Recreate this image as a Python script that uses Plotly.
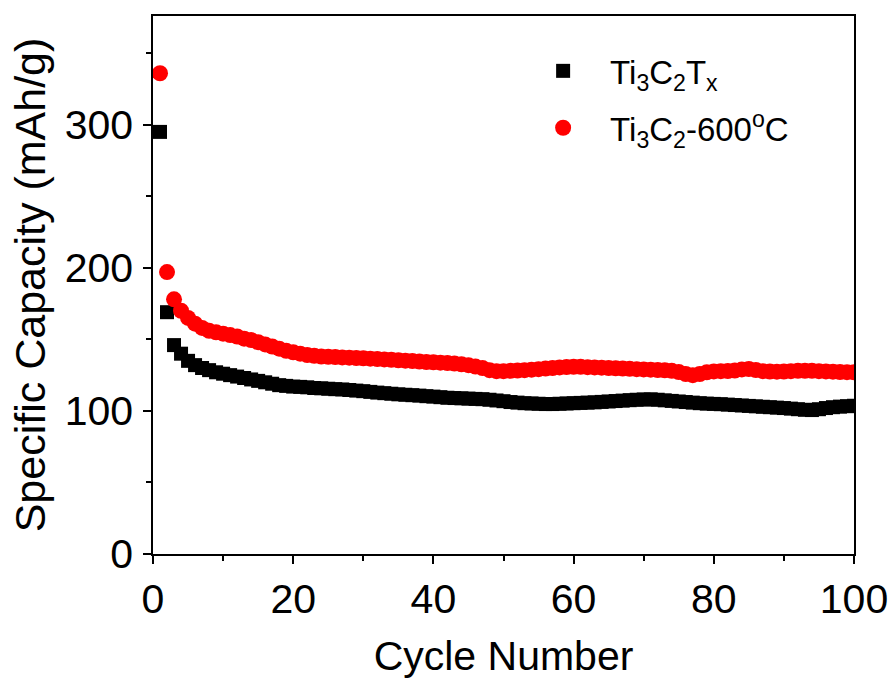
import plotly.graph_objects as go

# Cycle index (1..100)
cycles = list(range(1, 101))

# Discharge specific capacity (mAh/g) of pristine Ti3C2Tx
cap_ti3c2tx = [
    295, 169, 146, 140, 135, 132, 130, 128.5, 127, 126,
    125, 124, 123, 122, 121, 120, 119, 118, 117.5, 117,
    116.8, 116.5, 116, 115.8, 115.5, 115.2, 115, 114.6, 114.2, 113.8,
    113.3, 112.8, 112.4, 112, 111.6, 111.3, 111, 110.7, 110.3, 110,
    109.6, 109.2, 109, 108.8, 108.6, 108.4, 108.2, 107.8, 107.3, 106.8,
    106.2, 105.8, 105.4, 105.2, 105, 104.8, 104.8, 105, 105.2, 105.4,
    105.6, 105.8, 106, 106.3, 106.6, 106.9, 107.2, 107.5, 107.8, 108,
    108.1, 107.8, 107.4, 107, 106.6, 106.2, 105.8, 105.4, 105.1, 104.9,
    104.7, 104.4, 104.1, 103.8, 103.5, 103.2, 102.9, 102.6, 102.3, 102,
    101.6, 101.2, 100.8, 100.6, 101.2, 102, 102.6, 103, 103.3, 103.6,
]

# Discharge specific capacity (mAh/g) of Ti3C2 annealed at 600 °C
cap_ti3c2_600 = [
    336, 197, 178, 170, 165, 161, 158, 156, 155, 154,
    153, 152, 150.5, 149.5, 148, 146.5, 145, 143.5, 142, 141,
    140, 139, 138.5, 138, 137.8, 137.6, 137.4, 137.2, 137, 136.8,
    136.5, 136.2, 136, 135.7, 135.4, 135.1, 134.8, 134.5, 134.2, 134,
    133.7, 133.4, 133.1, 132.6, 132, 131, 130, 128.5, 127.8, 127.8,
    128, 128.2, 128.5, 128.8, 129.2, 129.6, 130, 130.4, 130.7, 130.8,
    130.8, 130.6, 130.4, 130.2, 130, 129.8, 129.6, 129.4, 129.2, 129,
    128.8, 128.6, 128.4, 128, 127.2, 125.8, 125, 125.8, 127, 127.6,
    127.8, 127.9, 128.2, 129, 129.3, 128.6, 127.8, 127.5, 127.4, 127.5,
    127.8, 128, 128, 128, 127.8, 127.6, 127.4, 127.2, 127.1, 127,
]

x_ticks = [0, 20, 40, 60, 80, 100]
y_ticks = [0, 100, 200, 300]

FONT = "Liberation Sans, Arial, sans-serif"

fig = go.Figure()
fig.add_trace(go.Scatter(
    x=cycles, y=cap_ti3c2tx, mode="markers",
    name="Ti<sub>3</sub>C<sub>2</sub>T<sub>x</sub>",
    legendgroup="a",
    marker=dict(symbol="square", size=14, color="black", line=dict(width=0)),
))
fig.add_trace(go.Scatter(
    x=cycles, y=cap_ti3c2_600, mode="markers",
    name="Ti<sub>3</sub>C<sub>2</sub>-600<sup>o</sup>C",
    legendgroup="b",
    marker=dict(symbol="circle", size=16, color="#ff0000", line=dict(width=0)),
))

axis_common = dict(
    showline=True, linecolor="black", linewidth=1.5, mirror=True,
    ticks="outside", ticklen=8, tickwidth=1.5, tickcolor="black",
    showgrid=False, zeroline=False, automargin=False,
    tickfont=dict(family=FONT, size=41, color="black"),
)

fig.update_xaxes(
    range=[0, 100], tickvals=x_ticks,
    minor=dict(dtick=10, ticks="outside", ticklen=5, tickwidth=1.5, tickcolor="black", showgrid=False),
    title=dict(text="Cycle Number", font=dict(family=FONT, size=41, color="black"), standoff=27),
    **axis_common,
)
fig.update_yaxes(
    range=[0, 376], tickvals=y_ticks,
    minor=dict(dtick=50, ticks="outside", ticklen=5, tickwidth=1.5, tickcolor="black", showgrid=False),
    title=dict(text="Specific Capacity (mAh/g)", font=dict(family=FONT, size=43, color="black"), standoff=6),
    ticklabelstandoff=2,
    **axis_common,
)

fig.update_layout(
    width=890, height=679,
    margin=dict(l=153, r=36, t=16, b=125),
    paper_bgcolor="white", plot_bgcolor="white",
    showlegend=True,
    legend=dict(
        x=0.518, y=0.95, xanchor="left", yanchor="top",
        font=dict(family=FONT, size=33, color="black"),
        bgcolor="rgba(0,0,0,0)", borderwidth=0,
        traceorder="grouped", tracegroupgap=11,
        itemwidth=84,
    ),
)

fig.write_html("out.html")
